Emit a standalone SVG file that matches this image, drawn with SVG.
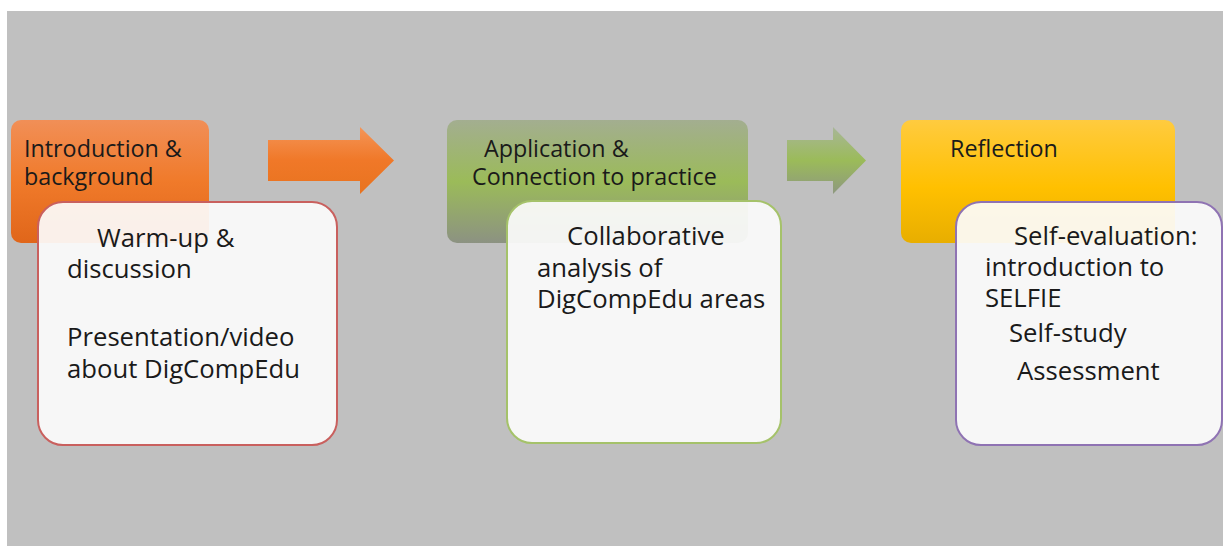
<svg xmlns="http://www.w3.org/2000/svg" width="1223" height="546" viewBox="0 0 1223 546">
<defs>
<linearGradient id="gOr" x1="0" y1="0" x2="0" y2="1">
<stop offset="0" stop-color="#F18F57"/>
<stop offset="0.5" stop-color="#F07A2A"/>
<stop offset="1" stop-color="#E0661A"/>
</linearGradient>
<linearGradient id="gGr" x1="0" y1="0" x2="0" y2="1">
<stop offset="0" stop-color="#A3AE90"/>
<stop offset="0.5" stop-color="#9BBB59"/>
<stop offset="1" stop-color="#8C9282"/>
</linearGradient>
<linearGradient id="gYe" x1="0" y1="0" x2="0" y2="1">
<stop offset="0" stop-color="#FFCB3F"/>
<stop offset="0.55" stop-color="#FFC000"/>
<stop offset="1" stop-color="#E8AE00"/>
</linearGradient>
<linearGradient id="gArO" x1="0" y1="0" x2="0" y2="1">
<stop offset="0" stop-color="#F49558"/>
<stop offset="0.5" stop-color="#F07828"/>
<stop offset="1" stop-color="#E8731F"/>
</linearGradient>
<linearGradient id="gArG" x1="0" y1="0" x2="0" y2="1">
<stop offset="0" stop-color="#A8B698"/>
<stop offset="0.5" stop-color="#9BBB59"/>
<stop offset="1" stop-color="#8E9880"/>
</linearGradient>
</defs>
<style>
.hd{font-family:"Open Sans","Liberation Sans",sans-serif;font-size:23.3px;fill:#1a1a1a}
.bd{font-family:"Open Sans","Liberation Sans",sans-serif;font-size:25.7px;fill:#1a1a1a}
.card{fill:#FCFCFC;fill-opacity:0.92;stroke-width:2}
</style>
<rect x="7" y="11" width="1216" height="535" fill="#C0C0C0"/>
<g id="connectors">
<path d="M268 140 H360 V127 L394 160.5 L360 194 V181 H268 Z" fill="url(#gArO)"/>
<path d="M787 140 H833 V127 L866 160.5 L833 194 V181 H787 Z" fill="url(#gArG)"/>
</g>
<g id="node-intro">
<rect x="11" y="120" width="198" height="123" rx="10" fill="url(#gOr)"/>
<text class="hd" x="24" y="157">Introduction &amp;</text>
<text class="hd" x="24" y="185">background</text>
</g>
<g id="card-intro">
<rect class="card" x="38" y="202" width="299" height="243" rx="25" stroke="#C9605E"/>
<text class="bd" x="97" y="247">Warm-up &amp;</text>
<text class="bd" x="67" y="278">discussion</text>
<text class="bd" x="67" y="346">Presentation/video</text>
<text class="bd" x="67" y="378">about DigCompEdu</text>
</g>
<g id="node-apply">
<rect x="447" y="120" width="301" height="123" rx="10" fill="url(#gGr)"/>
<text class="hd" x="484" y="157">Application &amp;</text>
<text class="hd" x="472" y="185">Connection to practice</text>
</g>
<g id="card-apply">
<rect class="card" x="507" y="201" width="274" height="242" rx="25" stroke="#A5C26A"/>
<text class="bd" x="567" y="245">Collaborative</text>
<text class="bd" x="537" y="277">analysis of</text>
<text class="bd" x="537" y="308">DigCompEdu areas</text>
</g>
<g id="node-reflect">
<rect x="901" y="120" width="274" height="123" rx="10" fill="url(#gYe)"/>
<text class="hd" x="950" y="157">Reflection</text>
</g>
<g id="card-reflect">
<rect class="card" x="956" y="202" width="266" height="243" rx="25" stroke="#8F73B3"/>
<text class="bd" x="1014" y="245">Self-evaluation:</text>
<text class="bd" x="985" y="276">introduction to</text>
<text class="bd" x="985" y="307">SELFIE</text>
<text class="bd" x="1009" y="342">Self-study</text>
<text class="bd" x="1017" y="380">Assessment</text>
</g>
</svg>
